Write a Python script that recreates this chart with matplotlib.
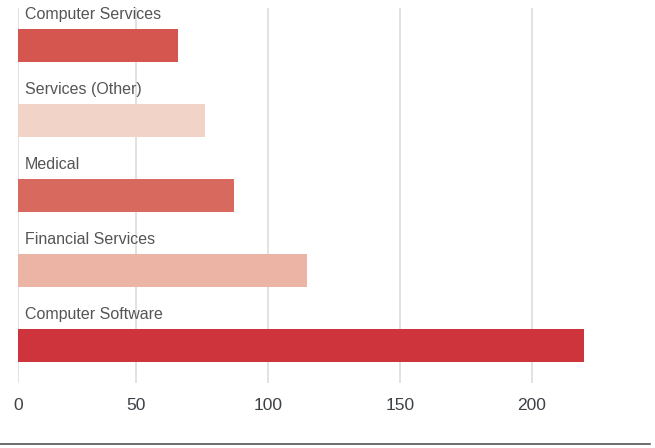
import matplotlib.pyplot as plt
from matplotlib.lines import Line2D

plt.rcParams['font.family'] = ['Liberation Sans', 'DejaVu Sans']

industries = ["Computer Services", "Services (Other)", "Medical",
              "Financial Services", "Computer Software"]
counts = [66, 76, 87, 115, 220]
bar_colors = ["#d4564f", "#f2d3c8", "#d8695e", "#ecb4a5", "#ce343c"]
tick_values = [50, 100, 150, 200]
tick_labels = ["0", "50", "100", "150", "200"]

# the axis opens a few units past zero, the first gridline is labelled 0
x_start = 5.2

fig = plt.figure(figsize=(6.55, 4.48), dpi=100)
ax = fig.add_axes([18 / 655, 1 - 383 / 448, 637 / 655 - 18 / 655, 375 / 448])

ypos = range(len(industries))
ax.barh(ypos, counts, height=0.44, color=bar_colors, zorder=2)

for i, name in enumerate(industries):
    ax.annotate(name, xy=(x_start, i - 0.22), xytext=(5, 7.5),
                textcoords="offset points", ha="left", va="baseline",
                fontsize=11.5, color="#555555")

ax.set_xlim(x_start, 240)
ax.set_ylim(len(industries) - 0.5, -0.5)
ax.set_xticks([x_start] + tick_values)
ax.set_xticklabels(tick_labels)
ax.set_yticks([])
ax.grid(axis="x", color="#e0ddd8", linewidth=1.2, zorder=0)
ax.tick_params(axis="x", length=0, pad=11, labelsize=12.5, labelcolor="#3c4146")
for s in ax.spines.values():
    s.set_visible(False)

fig.add_artist(Line2D([0, 650 / 655], [1 - 444 / 448] * 2,
                      color="#555555", linewidth=1.2, transform=fig.transFigure))

fig.savefig("out.png", dpi=100)
